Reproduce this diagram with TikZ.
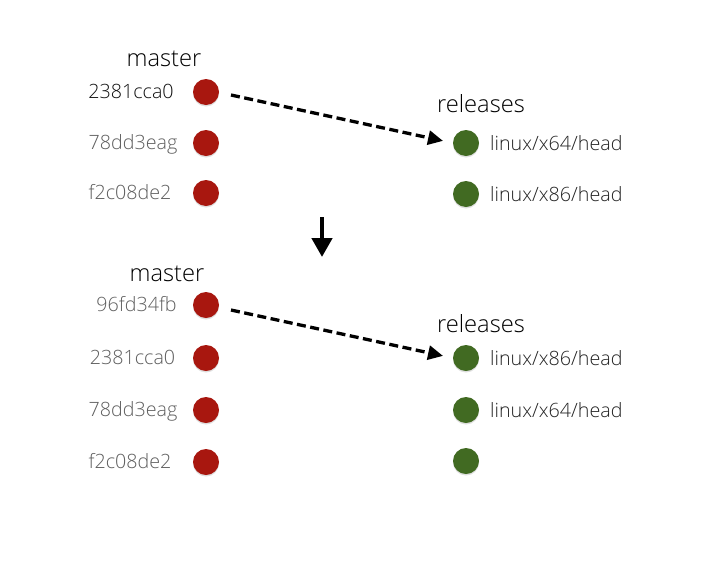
\documentclass[tikz,border=0pt]{standalone}
\usepackage{fontspec}
\setmainfont{Open Sans}[UprightFont=* Light]
\usetikzlibrary{arrows.meta,shadows}
\definecolor{dotred}{HTML}{A8170F}
\definecolor{dotgreen}{HTML}{416A22}
\definecolor{hashgray}{HTML}{5E5E5E}
\definecolor{hashdark}{HTML}{111111}
\definecolor{labgray}{HTML}{222222}
\tikzset{
  reddot/.style={circle,fill=dotred,minimum size=26pt,inner sep=0pt,
    drop shadow={shadow xshift=0pt,shadow yshift=-1.5pt,opacity=0.25}},
  greendot/.style={circle,fill=dotgreen,minimum size=26pt,inner sep=0pt,
    drop shadow={shadow xshift=0pt,shadow yshift=-1.5pt,opacity=0.25}},
  hash/.style={anchor=base,inner sep=0pt,text=hashgray,font=\fontsize{19.7}{22}\selectfont},
  branch/.style={anchor=base west,inner sep=0pt,text=labgray,font=\fontsize{19.7}{22}\selectfont},
  title/.style={anchor=base,inner sep=0pt,text=black,font=\fontsize{23.7}{26}\selectfont},
  ptr/.style={line width=3.3pt,dash pattern=on 9pt off 4.5pt,-{Triangle[length=15pt,width=14pt]},shorten >=10pt},
  bigarrow/.style={line width=4.5pt,-{Triangle[length=19pt,width=20pt]}}
}
\begin{document}
\begin{tikzpicture}[x=1pt,y=-1pt]
\useasboundingbox (0,0) rectangle (709,560);
\fill[white] (0,0) rectangle (709,560);
% ---- top ----
\node[title] (m1) at (164,66) {master};
\node[title] (r1) at (481,112) {releases};
\node[reddot] (a1) at (206,92) {};
\node[reddot] (a2) at (206,143) {};
\node[reddot] (a3) at (206,193) {};
\node[hash,text=hashdark] (h1) at (131,98.5) {2381cca0};
\node[hash] (h2) at (133,149.5) {78dd3eag};
\node[hash] (h3) at (130,199.5) {f2c08de2};
\node[greendot] (g1) at (466,143) {};
\node[greendot] (g2) at (466,194) {};
\node[branch] (l1) at (490,150) {linux/x64/head};
\node[branch] (l2) at (490,201) {linux/x86/head};
\coordinate (s1) at (231,95);
\draw[ptr] (s1) -- (g1.west);
% ---- transition ----
\coordinate (d1) at (322,217);
\coordinate (d2) at (322,257);
\draw[bigarrow] (d1) -- (d2);
% ---- bottom ----
\node[title] (m2) at (167,281) {master};
\node[title] (r2) at (481,332) {releases};
\node[reddot] (b1) at (206,305) {};
\node[reddot] (b2) at (206,358) {};
\node[reddot] (b3) at (206,410) {};
\node[reddot] (b4) at (206,462) {};
\node[hash] (k1) at (136.5,311.5) {96fd34fb};
\node[hash] (k2) at (132.5,364.5) {2381cca0};
\node[hash] (k3) at (133,416.5) {78dd3eag};
\node[hash] (k4) at (130,468.5) {f2c08de2};
\node[greendot] (q1) at (466,358) {};
\node[greendot] (q2) at (466,410) {};
\node[greendot] (q3) at (466,461) {};
\node[branch] (n1) at (490,365) {linux/x86/head};
\node[branch] (n2) at (490,417) {linux/x64/head};
\coordinate (s2) at (231,310);
\draw[ptr] (s2) -- (q1.west);
\end{tikzpicture}
\end{document}
